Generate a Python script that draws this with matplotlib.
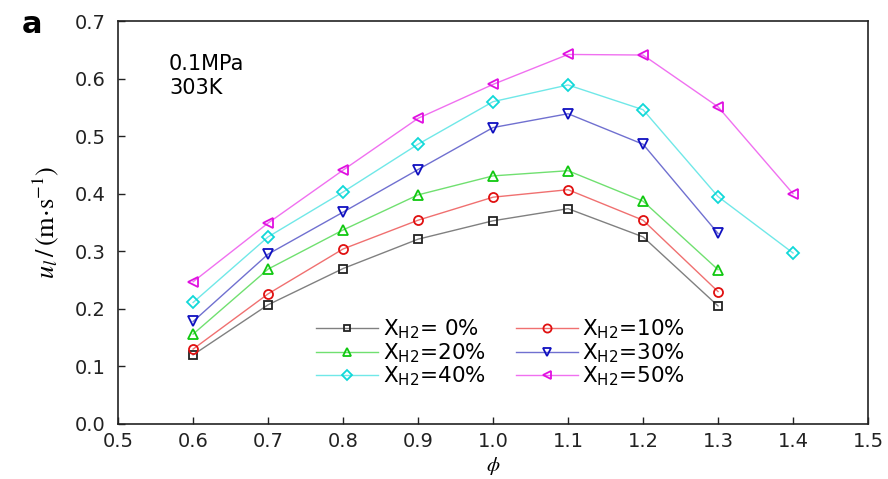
import matplotlib
matplotlib.use("Agg")
import matplotlib.pyplot as plt
from matplotlib.ticker import FormatStrFormatter

plt.rcParams['font.family'] = ['DejaVu Sans']
plt.rcParams['mathtext.fontset'] = 'dejavusans'

# Equivalence ratio and laminar burning velocity (m/s) per hydrogen fraction
phi_short = [0.6, 0.7, 0.8, 0.9, 1.0, 1.1, 1.2, 1.3]
phi_long = [0.6, 0.7, 0.8, 0.9, 1.0, 1.1, 1.2, 1.3, 1.4]
u_h2_0 = [0.120, 0.207, 0.270, 0.321, 0.353, 0.374, 0.325, 0.205]
u_h2_10 = [0.130, 0.226, 0.304, 0.354, 0.394, 0.407, 0.354, 0.230]
u_h2_20 = [0.156, 0.269, 0.337, 0.398, 0.431, 0.440, 0.387, 0.268]
u_h2_30 = [0.178, 0.295, 0.368, 0.442, 0.515, 0.539, 0.486, 0.331]
u_h2_40 = [0.211, 0.325, 0.403, 0.486, 0.560, 0.589, 0.546, 0.395, 0.297]
u_h2_50 = [0.247, 0.349, 0.441, 0.531, 0.590, 0.642, 0.641, 0.551, 0.400]

labels = ['X$_{\\rm H2}$= 0%', 'X$_{\\rm H2}$=10%', 'X$_{\\rm H2}$=20%',
          'X$_{\\rm H2}$=30%', 'X$_{\\rm H2}$=40%', 'X$_{\\rm H2}$=50%']

# (x, y, marker, marker size, marker colour, line colour)
series = [
    (phi_short, u_h2_0, 's', 5.5, '#222222', '#808080'),
    (phi_short, u_h2_10, 'o', 6.5, '#e01010', '#f07070'),
    (phi_short, u_h2_20, '^', 7, '#10c810', '#70e070'),
    (phi_short, u_h2_30, 'v', 7, '#1010c0', '#7070d0'),
    (phi_long, u_h2_40, 'D', 6, '#10d8d8', '#70e8e8'),
    (phi_long, u_h2_50, '<', 7, '#e010e0', '#f070f0'),
]

fig = plt.figure(figsize=(8.88, 4.79), dpi=100)
ax = fig.add_axes([0.133, 0.115, 0.8445, 0.841])

handles = []
for (x, y, m, ms, mc, lc), lab in zip(series, labels):
    h, = ax.plot(x, y, color=lc, lw=1.0, marker=m, markersize=ms,
                 markerfacecolor='none', markeredgecolor=mc,
                 markeredgewidth=1.3, label=lab)
    handles.append(h)

ax.set_xlim(0.5, 1.5)
ax.set_ylim(0.0, 0.7)
ax.set_xticks([0.5, 0.6, 0.7, 0.8, 0.9, 1.0, 1.1, 1.2, 1.3, 1.4, 1.5])
ax.set_yticks([0.0, 0.1, 0.2, 0.3, 0.4, 0.5, 0.6, 0.7])
ax.xaxis.set_major_formatter(FormatStrFormatter('%.1f'))
ax.yaxis.set_major_formatter(FormatStrFormatter('%.1f'))
ax.tick_params(direction='in', length=5, width=1.0, labelsize=14,
               top=False, right=False, colors='#222222')
ax.tick_params(axis='y', pad=9)
ax.tick_params(axis='x', pad=6)
for s in ax.spines.values():
    s.set_linewidth(1.2)
    s.set_color('#222222')

ax.set_xlabel('$\\phi$', fontsize=15, labelpad=3, math_fontfamily='stix')
ax.set_ylabel('$u_l\\,/\\,(\\mathrm{m{\\cdot}s^{-1}})$', fontsize=19,
              labelpad=10, math_fontfamily='stix')

ax.text(0.068, 0.918, '0.1MPa\n303K', transform=ax.transAxes, fontsize=15,
        va='top', ha='left', linespacing=1.25)
fig.text(0.025, 0.948, 'a', fontsize=22, fontweight='bold',
         ha='left', va='center')

# two columns filled row by row
order = [0, 2, 4, 1, 3, 5]
ax.legend([handles[i] for i in order], [labels[i] for i in order],
          loc='center', bbox_to_anchor=(0.51, 0.176), ncol=2, frameon=False,
          fontsize=15.5, handlelength=2.9, handletextpad=0.2,
          columnspacing=1.4, labelspacing=0.0, borderpad=0.2,
          markerscale=0.9)

fig.savefig('out.png', dpi=100)
